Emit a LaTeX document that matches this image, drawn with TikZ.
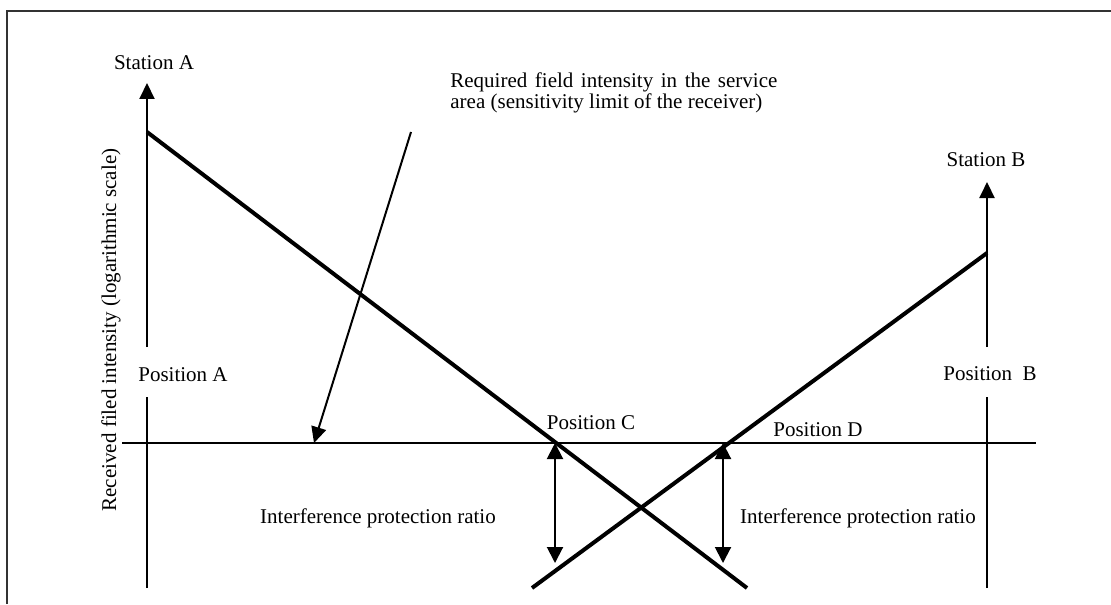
\documentclass[tikz,border=0pt]{standalone}
\usepackage{fontspec}
\setmainfont{Liberation Serif}
\usetikzlibrary{arrows.meta}
\begin{document}
\begin{tikzpicture}[x=0.5pt,y=-0.5pt,
  lbl/.style={inner sep=0pt, font=\fontsize{10.5}{10.8}\selectfont},
  axisline/.style={line width=1pt},
  sigline/.style={line width=2pt},
  uptip/.style={-{Triangle[length=8pt,width=7.5pt]}},
  dbltip/.style={{Triangle[length=8pt,width=8pt]}-{Triangle[length=8pt,width=8pt]}},
  frameline/.style={line width=1pt, black!80}]
\useasboundingbox (0,0) rectangle (1111,604);
% frame
\coordinate (fbl) at (7,604);
\coordinate (ftl) at (7,11);
\coordinate (ftr) at (1111,11);
\draw[frameline] (fbl) -- (ftl) -- (ftr);
% labels
\node[lbl] (stA) at (154,63) {Station A};
\node[lbl] (stB) at (986,160) {Station B};
\node[lbl] (posA) at (183,375) {Position A};
\node[lbl] (posB) at (990,374) {Position\ \ B};
\node[lbl] (posC) at (591,423) {Position C};
\node[lbl] (posD) at (818,430) {Position D};
\node[lbl] (ipr1) at (378,518) {Interference protection ratio};
\node[lbl] (ipr2) at (858,518) {Interference protection ratio};
\node[lbl, rotate=90] (ylab) at (111,330) {Received filed intensity (logarithmic scale)};
\node[lbl, anchor=north west, text width=163.5pt, align=justify] (req) at (450,72)
  {Required field intensity in the service\linebreak area (sensitivity limit of the receiver)};
% axis A
\coordinate (aBot) at (147,588);
\coordinate (aGapLo) at (147,397);
\coordinate (aGapHi) at (147,347);
\coordinate (aTop) at (147,83);
\draw[axisline] (aBot) -- (aGapLo);
\draw[axisline, uptip] (aGapHi) -- (aTop);
% axis B
\coordinate (bBot) at (987,588);
\coordinate (bGapLo) at (987,397);
\coordinate (bGapHi) at (987,347);
\coordinate (bTop) at (987,182);
\draw[axisline] (bBot) -- (bGapLo);
\draw[axisline, uptip] (bGapHi) -- (bTop);
% required level line
\coordinate (hL) at (122,443);
\coordinate (hR) at (1036,443);
\draw[axisline] (hL) -- (hR);
% signal lines
\coordinate (sA1) at (147,132);
\coordinate (sA2) at (747,588);
\coordinate (sB1) at (987,253);
\coordinate (sB2) at (532,588);
\draw[sigline] (sA1) -- (sA2);
\draw[sigline] (sB1) -- (sB2);
% protection ratio arrows
\coordinate (cTop) at (555,443);
\coordinate (cBot) at (555,563);
\coordinate (dTop) at (723,443);
\coordinate (dBot) at (723,563);
\draw[axisline, dbltip] (cTop) -- (cBot);
\draw[axisline, dbltip] (dTop) -- (dBot);
% pointer
\coordinate (pStart) at (411,132);
\coordinate (pEnd) at (314,443);
\draw[axisline, uptip] (pStart) -- (pEnd);
\end{tikzpicture}
\end{document}
